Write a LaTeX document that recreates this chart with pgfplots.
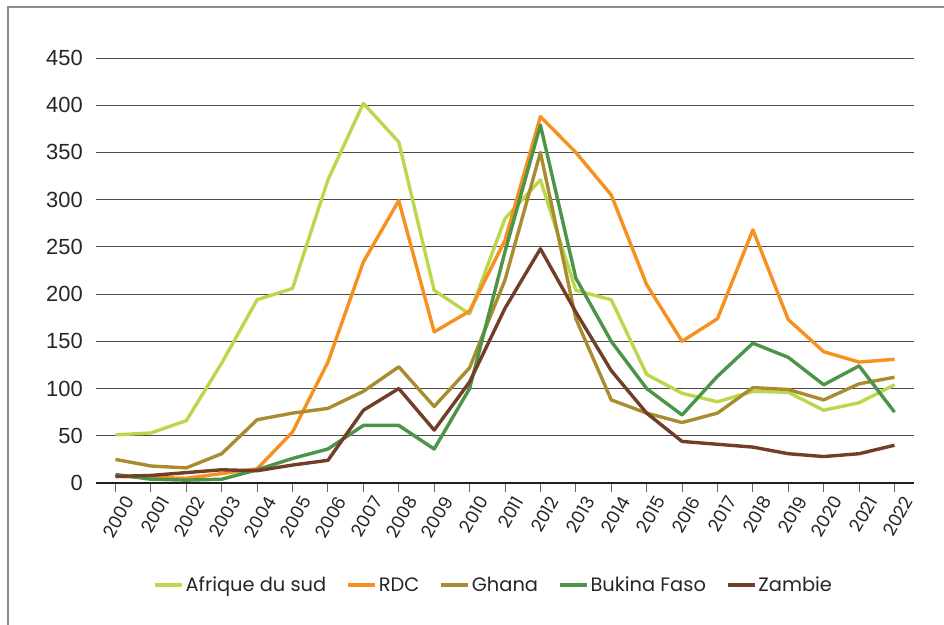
\documentclass[border=0pt]{standalone}
\usepackage{pgfplots}
\pgfplotsset{compat=1.18}
\usepackage{fontspec}
\setmainfont{Poppins}
\newfontfamily\arialf{Liberation Sans}
\definecolor{cafs}{HTML}{BBD84C}
\definecolor{crdc}{HTML}{F7901E}
\definecolor{cgha}{HTML}{A98C2F}
\definecolor{cbfa}{HTML}{4C9447}
\definecolor{czam}{HTML}{733E28}
\definecolor{frame}{HTML}{8C8C8C}
\definecolor{txt}{HTML}{262626}
\begin{document}
\begin{tikzpicture}
\useasboundingbox (0,0) rectangle (944bp,625bp);
\draw[color=frame, line width=1.5bp] (8bp,0bp) -- (8bp,618bp) -- (944bp,618bp);
\begin{axis}[
  at={(96bp,142bp)}, anchor=south west,
  scale only axis, width=818bp, height=425bp,
  xmin=-0.55, xmax=22.55, ymin=0, ymax=450,
  axis x line*=bottom, axis y line*=left,
  x axis line style={line width=2.7bp, color=black!88},
  y axis line style={draw=none},
  ymajorgrids, grid style={black!70, line width=0.9bp},
  ytick={0,50,...,450},
  yticklabels={0,50,100,150,200,250,300,350,400,450},
  xtick={0,...,22},
  xticklabels={2000,2001,2002,2003,2004,2005,2006,2007,2008,2009,2010,2011,2012,2013,2014,2015,2016,2017,2018,2019,2020,2021,2022},
  tick align=outside,
  major x tick style={black!60, line width=0.9bp},
  major tick length=9bp,
  ytick style={draw=none},
  y tick label style={font=\arialf\fontsize{22}{22}\selectfont, text=txt, anchor=east, inner sep=0pt, xshift=-4bp},
  x tick label style={font=\fontsize{18}{18}\selectfont, text=txt, rotate=60, anchor=east, inner sep=0pt, yshift=-15bp, xshift=2bp},
  legend style={at={(0.486,-0.24)}, anchor=center, draw=none, fill=none,
    font=\fontsize{19.5}{19.5}\selectfont, text=txt, legend columns=5,
    /tikz/every even column/.append style={column sep=18bp}},
  legend image code/.code={\draw[#1, line width=3.5bp] (0bp,0bp) -- (27bp,0bp);},
  every axis plot/.append style={line width=3.4bp, line join=round, mark=none},
]
\addplot[cafs] coordinates {(0,51)(1,53)(2,66)(3,127)(4,194)(5,206)(6,321)(7,402)(8,361)(9,204)(10,179)(11,280)(12,321)(13,204)(14,194)(15,115)(16,95)(17,86)(18,97)(19,96)(20,77)(21,85)(22,104)};
\addlegendentry{Afrique du sud}
\addplot[crdc] coordinates {(0,7)(1,6)(2,5)(3,10)(4,15)(5,54)(6,128)(7,234)(8,299)(9,160)(10,182)(11,257)(12,388)(13,350)(14,305)(15,210)(16,150)(17,174)(18,268)(19,173)(20,139)(21,128)(22,131)};
\addlegendentry{RDC}
\addplot[cgha] coordinates {(0,25)(1,18)(2,16)(3,31)(4,67)(5,74)(6,79)(7,97)(8,123)(9,81)(10,122)(11,215)(12,350)(13,174)(14,88)(15,74)(16,64)(17,74)(18,101)(19,99)(20,88)(21,105)(22,112)};
\addlegendentry{Ghana}
\addplot[cbfa] coordinates {(0,9)(1,4)(2,3)(3,4)(4,14)(5,26)(6,36)(7,61)(8,61)(9,36)(10,100)(11,245)(12,379)(13,217)(14,150)(15,100)(16,72)(17,113)(18,148)(19,133)(20,104)(21,124)(22,75)};
\addlegendentry{Bukina Faso}
\addplot[czam] coordinates {(0,7)(1,8)(2,11)(3,14)(4,13)(5,19)(6,24)(7,77)(8,100)(9,56)(10,107)(11,185)(12,248)(13,181)(14,119)(15,74)(16,44)(17,41)(18,38)(19,31)(20,28)(21,31)(22,40)};
\addlegendentry{Zambie}
\end{axis}
\end{tikzpicture}
\end{document}
